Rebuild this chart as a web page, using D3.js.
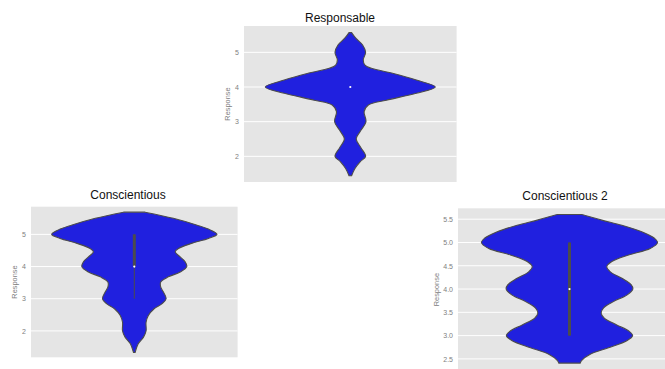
<!DOCTYPE html>
<html><head><meta charset="utf-8">
<script src="https://cdn.jsdelivr.net/npm/d3@7/dist/d3.min.js"></script>
<style>body{margin:0;background:#fff}svg{display:block}</style>
</head><body><svg id="c" width="665" height="369"></svg>
<script>
// ---- data ----
const titles = ["Responsable", "Conscientious", "Conscientious 2"];

// Responsable: violin profile (response level, half-width as fraction of category width)
const respLevels = [1.44, 1.65, 1.85, 2.0, 2.25, 2.5, 2.75, 3.0, 3.29, 3.48, 3.62, 3.82, 4.0, 4.2, 4.39, 4.54, 4.63, 4.78, 5.0, 5.21, 5.40, 5.57];
const respWidths = [0.006, 0.022, 0.047, 0.072, 0.050, 0.028, 0.050, 0.074, 0.065, 0.085, 0.170, 0.311, 0.400, 0.311, 0.203, 0.099, 0.069, 0.061, 0.072, 0.058, 0.027, 0.006];
// box stats: [whiskerLow, q1, median, q3, whiskerHigh]
const respBox = [4, 4, 4, 4, 4];

// Conscientious
const consLevels = [1.33, 1.6, 1.8, 2.0, 2.27, 2.48, 2.69, 2.84, 3.0, 3.21, 3.36, 3.52, 3.68, 3.83, 4.0, 4.15, 4.3, 4.46, 4.56, 4.72, 4.875, 5.0, 5.14, 5.29, 5.5, 5.69];
const consWidths = [0.004, 0.019, 0.044, 0.057, 0.057, 0.068, 0.096, 0.133, 0.154, 0.141, 0.128, 0.128, 0.165, 0.222, 0.254, 0.246, 0.222, 0.198, 0.214, 0.277, 0.359, 0.400, 0.367, 0.301, 0.189, 0.052];
const consBox = [3, 4, 4, 5, 5];

// Conscientious 2
const cons2Levels = [2.41, 2.47, 2.6, 2.74, 2.89, 3.0, 3.09, 3.23, 3.37, 3.48, 3.59, 3.73, 3.87, 4.0, 4.09, 4.23, 4.37, 4.48, 4.59, 4.73, 4.87, 5.0, 5.09, 5.23, 5.37, 5.48, 5.6];
const cons2Widths = [0.048, 0.055, 0.093, 0.175, 0.257, 0.283, 0.268, 0.212, 0.157, 0.142, 0.152, 0.197, 0.257, 0.284, 0.277, 0.235, 0.183, 0.167, 0.190, 0.265, 0.362, 0.395, 0.381, 0.324, 0.235, 0.145, 0.055];
const cons2Box = [3, 3, 4, 5, 5];

// tick labels
const intTicks = [2, 3, 4, 5];
const halfTicks = [2.5, 3.0, 3.5, 4.0, 4.5, 5.0, 5.5];
const yLabel = "Response";

// ---- layout ----
const panels = [
  {title: titles[0], levels: respLevels, widths: respWidths, box: respBox, ticks: intTicks, fmt: d3.format("d"),
   left: 244, top: 26, w: 212.6, h: 156, domain: [1.26, 5.76], titleX: 340, titleY: 21.5, labelOff: 16.5},
  {title: titles[1], levels: consLevels, widths: consWidths, box: consBox, ticks: intTicks, fmt: d3.format("d"),
   left: 31, top: 206.7, w: 206.6, h: 150.6, domain: [1.18, 5.86], titleX: 128, titleY: 198.5, labelOff: 16.5},
  {title: titles[2], levels: cons2Levels, widths: cons2Widths, box: cons2Box, ticks: halfTicks, fmt: d3.format(".1f"),
   left: 458, top: 208.3, w: 223, h: 162.7, domain: [2.24, 5.734], titleX: 565, titleY: 199.5, labelOff: 21.5}
];

const svg = d3.select("#c");
const FILL = "#2020df", EDGE = "#4c4c4c", BG = "#e5e5e5";
const font = "'Liberation Sans', Arial, sans-serif";

panels.forEach(p => {
  const y = d3.scaleLinear().domain(p.domain).range([p.top + p.h, p.top]);
  const x = d3.scaleLinear().domain([-0.5, 0.5]).range([p.left, p.left + p.w]);
  const g = svg.append("g");

  g.append("rect").attr("x", p.left).attr("y", p.top).attr("width", p.w).attr("height", p.h).attr("fill", BG);

  // gridlines
  g.selectAll("line.grid").data(p.ticks).join("line")
    .attr("x1", p.left).attr("x2", p.left + p.w)
    .attr("y1", d => y(d)).attr("y2", d => y(d))
    .attr("stroke", "#ffffff").attr("stroke-width", 1);

  // axis
  const ax = g.append("g").attr("transform", `translate(${p.left},0)`)
    .call(d3.axisLeft(y).tickValues(p.ticks).tickFormat(p.fmt).tickSize(0).tickPadding(5));
  ax.select(".domain").remove();
  ax.selectAll("text").attr("fill", "#808080").style("font-family", font).style("font-size", "7px");

  // y label
  g.append("text").attr("transform", `translate(${p.left - p.labelOff},${p.top + p.h / 2}) rotate(-90)`)
    .attr("text-anchor", "middle").attr("dy", "0.35em")
    .attr("fill", "#808080").style("font-family", font).style("font-size", "7.4px").text(yLabel);

  // title
  g.append("text").attr("x", p.titleX).attr("y", p.titleY).attr("text-anchor", "middle")
    .attr("fill", "#111").style("font-family", font).style("font-size", "12px").text(p.title);

  // violin
  const pts = p.levels.map((v, i) => ({v, w: p.widths[i]}));
  const area = d3.area().y(d => y(d.v)).x0(d => x(-d.w)).x1(d => x(d.w)).curve(d3.curveCatmullRom);
  g.append("path").attr("d", area(pts)).attr("fill", FILL).attr("stroke", EDGE).attr("stroke-width", 1.1);

  // inner box
  const [wl, q1, med, q3, wh] = p.box;
  if (wh > wl) {
    g.append("line").attr("x1", x(0)).attr("x2", x(0)).attr("y1", y(wl)).attr("y2", y(wh))
      .attr("stroke", EDGE).attr("stroke-width", 1);
  }
  if (q3 > q1) {
    g.append("line").attr("x1", x(0)).attr("x2", x(0)).attr("y1", y(q1)).attr("y2", y(q3))
      .attr("stroke", EDGE).attr("stroke-width", 3);
  }
  g.append("circle").attr("cx", x(0)).attr("cy", y(med)).attr("r", 1.1).attr("fill", "#ffffff");
});
</script></body></html>
